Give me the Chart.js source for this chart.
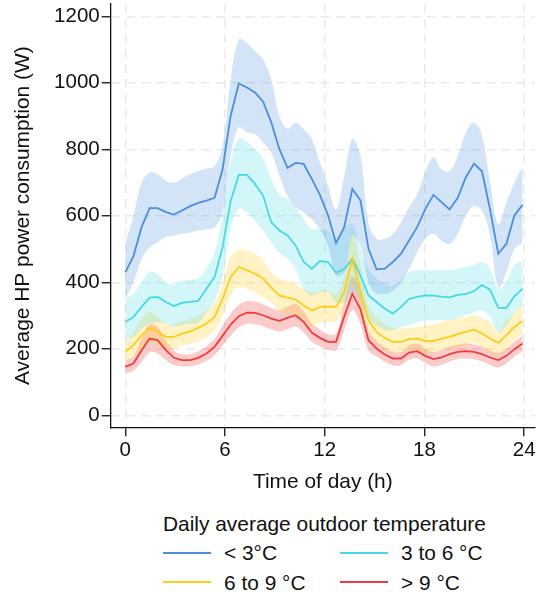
<!DOCTYPE html>
<html>
<head>
<meta charset="utf-8">
<script src="https://cdn.jsdelivr.net/npm/chart.js@4.4.1/dist/chart.umd.min.js"></script>
<style>
  body { margin: 0; background: #fff; font-family: "Liberation Sans", Arial, sans-serif; }
  #wrap { position: relative; width: 537px; height: 597px; }
  #chart { position: absolute; left: 0; top: 0; }
  #legend { position: absolute; left: 163px; top: 512px; color: #111; font-size: 20.9px; }
  #legend .title { position: absolute; left: 0; top: 0; white-space: nowrap; line-height: 24px; }
  #legend .item { position: absolute; white-space: nowrap; height: 24px; line-height: 24px; }
  #legend .swatch { position: absolute; left: 0; top: 10.5px; width: 48px; height: 2px; }
  #legend .lbl { position: absolute; left: 61px; top: 0; }
</style>
</head>
<body>
<div id="wrap">
  <canvas id="chart" width="537" height="495"></canvas>
  <div id="legend"></div>
</div>
<script>
// half-hourly samples over the day
var hours = [0, 0.49, 0.98, 1.46, 1.95, 2.44, 2.93, 3.41, 3.9, 4.39, 4.88, 5.37, 5.85, 6.34, 6.83, 7.32, 7.8, 8.29, 8.78, 9.27,
  9.76, 10.24, 10.73, 11.22, 11.71, 12.2, 12.68, 13.17, 13.66, 14.15, 14.63, 15.12, 15.61, 16.1, 16.59, 17.07, 17.56, 18.05, 18.54, 19.02,
  19.51, 20, 20.49, 20.98, 21.46, 21.95, 22.44, 22.93, 23.41, 23.9];

var seriesNames = ['< 3°C', '3 to 6 °C', '6 to 9 °C', '> 9 °C'];
var xTicks = [0, 6, 12, 18, 24];
var yTicks = [0, 200, 400, 600, 800, 1000, 1200];

// < 3°C
var coldMean = [430,479,566,623,623,611,604,616,629,639,646,654,739,901,998,986,971,943,881,801,744,759,756,711,663,601,518,566,681,646,501,439,441,461,486,526,566,620,663,641,619,654,716,757,734,618,486,516,601,633];
var coldUpper = [516,600,700,730,725,705,700,712,725,735,742,750,810,1010,1130,1120,1095,1070,1010,900,862,880,860,830,760,690,620,720,830,780,580,531,531,545,580,625,665,730,776,740,735,780,850,880,840,700,575,640,700,748];
var coldLower = [351,400,470,505,520,536,540,546,550,556,560,566,610,780,866,851,845,820,790,721,660,625,611,590,560,510,420,430,540,510,400,366,366,375,400,440,490,530,546,525,516,545,600,630,615,540,385,430,500,520];

// 3 to 6 °C
var coolMean = [281,296,326,354,356,341,329,338,341,344,381,416,505,645,723,723,696,661,581,556,541,511,461,441,464,461,429,439,471,420,361,341,321,306,326,350,356,361,360,357,355,362,365,373,392,377,323,323,358,381];
var coolUpper = [351,366,400,431,425,400,393,404,408,412,441,490,600,760,832,822,800,771,711,665,650,625,590,560,560,555,530,560,576,500,440,410,396,390,410,430,436,436,436,436,436,440,446,452,461,440,381,400,451,466];
var coolLower = [231,236,260,275,280,275,268,272,275,278,310,345,420,560,621,611,585,555,520,490,470,440,380,360,370,370,340,340,370,340,290,270,256,256,265,271,280,286,286,286,286,292,301,310,316,296,251,270,311,331];

// 6 to 9 °C
var mildMean = [192,211,241,263,251,236,236,246,252,263,276,296,350,416,446,436,426,412,384,360,354,348,330,315,326,327,326,371,470,371,286,251,233,221,221,229,231,223,223,231,236,244,251,258,246,231,218,241,266,283];
var mildUpper = [223,250,290,311,295,275,273,282,290,300,316,340,400,476,501,495,486,466,430,410,406,395,381,370,375,375,365,420,550,450,330,295,275,263,261,264,266,270,275,281,286,291,296,301,291,281,251,285,310,341];
var mildLower = [165,175,200,220,210,198,201,210,215,221,235,255,300,361,385,381,370,355,340,312,305,300,285,268,280,280,285,320,390,300,245,215,198,186,190,196,196,186,188,195,200,205,210,218,205,190,180,200,225,245];

// > 9 °C
var warmMean = [146,156,196,231,226,196,173,166,166,173,186,206,239,273,298,309,308,301,291,284,293,301,281,249,233,221,221,297,366,319,226,201,183,171,171,189,193,179,169,174,184,191,193,191,184,174,166,179,199,216];
var warmUpper = [166,178,231,273,266,226,195,184,184,193,208,231,269,306,332,343,342,334,323,316,327,335,313,277,258,244,246,339,418,364,256,225,205,191,191,211,215,201,191,196,206,213,215,213,206,196,188,201,221,240];
var warmLower = [126,134,161,189,186,166,151,148,148,153,164,181,209,240,264,275,274,268,259,252,259,267,249,221,208,198,196,255,316,274,196,177,161,151,151,167,171,157,147,152,162,169,171,169,162,152,144,157,177,192];

var lineColors = ['#4a8fdc', '#47d9e2', '#ffcc1a', '#f23d3d'];
var bandColors = ['rgba(74,143,220,0.24)', 'rgba(71,217,226,0.24)', 'rgba(255,210,40,0.27)', 'rgba(242,61,61,0.27)'];

var means = [coldMean, coolMean, mildMean, warmMean];
var uppers = [coldUpper, coolUpper, mildUpper, warmUpper];
var lowers = [coldLower, coolLower, mildLower, warmLower];

function pts(vals) {
  return hours.map(function(h, i) { return { x: h, y: vals[i] }; });
}

var datasets = [];
for (var s = 0; s < 4; s++) {
  datasets.push({
    label: seriesNames[s] + ' upper', data: pts(uppers[s]),
    borderWidth: 0, pointRadius: 0, tension: 0.4,
    backgroundColor: bandColors[s], fill: '+1', order: 10 + s
  });
  datasets.push({
    label: seriesNames[s] + ' lower', data: pts(lowers[s]),
    borderWidth: 0, pointRadius: 0, tension: 0.4, fill: false, order: 10 + s
  });
}
for (var s2 = 0; s2 < 4; s2++) {
  datasets.push({
    label: seriesNames[s2], data: pts(means[s2]),
    borderColor: lineColors[s2], borderWidth: 1.8, pointRadius: 0,
    tension: 0, fill: false, order: 4 - s2
  });
}

var font = { family: '"Liberation Sans", Arial, sans-serif', size: 20.5 };
var titleFont = { family: '"Liberation Sans", Arial, sans-serif', size: 20.9 };
var gridOpts = { color: '#eaeaea', lineWidth: 1.5, tickColor: '#111', tickBorderDash: [], tickLength: 9, tickWidth: 1.3 };
var borderOpts = { display: true, color: '#111', width: 1.3, dash: [9, 6] };

// drop the room Chart.js keeps for half a label at each end of an axis
function noEdgePad(scale) {
  scale.paddingTop = 0; scale.paddingBottom = 0;
  scale.paddingLeft = 0; scale.paddingRight = 0;
}

new Chart(document.getElementById('chart'), {
  type: 'line',
  data: { datasets: datasets },
  options: {
    responsive: false,
    animation: false,
    layout: { padding: { left: 11, right: 2, top: 4, bottom: 0 } },
    plugins: { legend: { display: false }, tooltip: { enabled: false } },
    scales: {
      x: {
        type: 'linear', min: -0.88, max: 24.65,
        afterBuildTicks: function(axis) { axis.ticks = xTicks.map(function(v) { return { value: v }; }); },
        afterFit: noEdgePad,
        ticks: { font: font, color: '#111', padding: 2, maxRotation: 0, callback: function(v) { return String(v); } },
        grid: gridOpts,
        border: borderOpts,
        title: { display: true, text: 'Time of day (h)', font: titleFont, color: '#111', padding: { top: 5, bottom: 0 } }
      },
      y: {
        min: -36, max: 1237,
        afterBuildTicks: function(axis) { axis.ticks = yTicks.map(function(v) { return { value: v }; }); },
        afterFit: noEdgePad,
        ticks: { font: font, color: '#111', padding: 2, callback: function(v) { return String(v); } },
        grid: gridOpts,
        border: borderOpts,
        title: { display: true, text: 'Average HP power consumption (W)', font: titleFont, color: '#111', padding: { top: 0, bottom: 16 } }
      }
    }
  }
});

// legend below the plot, two columns
var legend = document.getElementById('legend');
var t = document.createElement('div');
t.className = 'title';
t.textContent = 'Daily average outdoor temperature';
legend.appendChild(t);
var colX = [0, 177];
var rowY = [29, 58.5];
seriesNames.forEach(function(name, i) {
  var it = document.createElement('div');
  it.className = 'item';
  it.style.left = colX[i % 2] + 'px';
  it.style.top = rowY[Math.floor(i / 2)] + 'px';
  it.innerHTML = '<span class="swatch" style="background:' + lineColors[i] + '"></span><span class="lbl"></span>';
  it.querySelector('.lbl').textContent = name;
  legend.appendChild(it);
});
</script>
</body>
</html>
